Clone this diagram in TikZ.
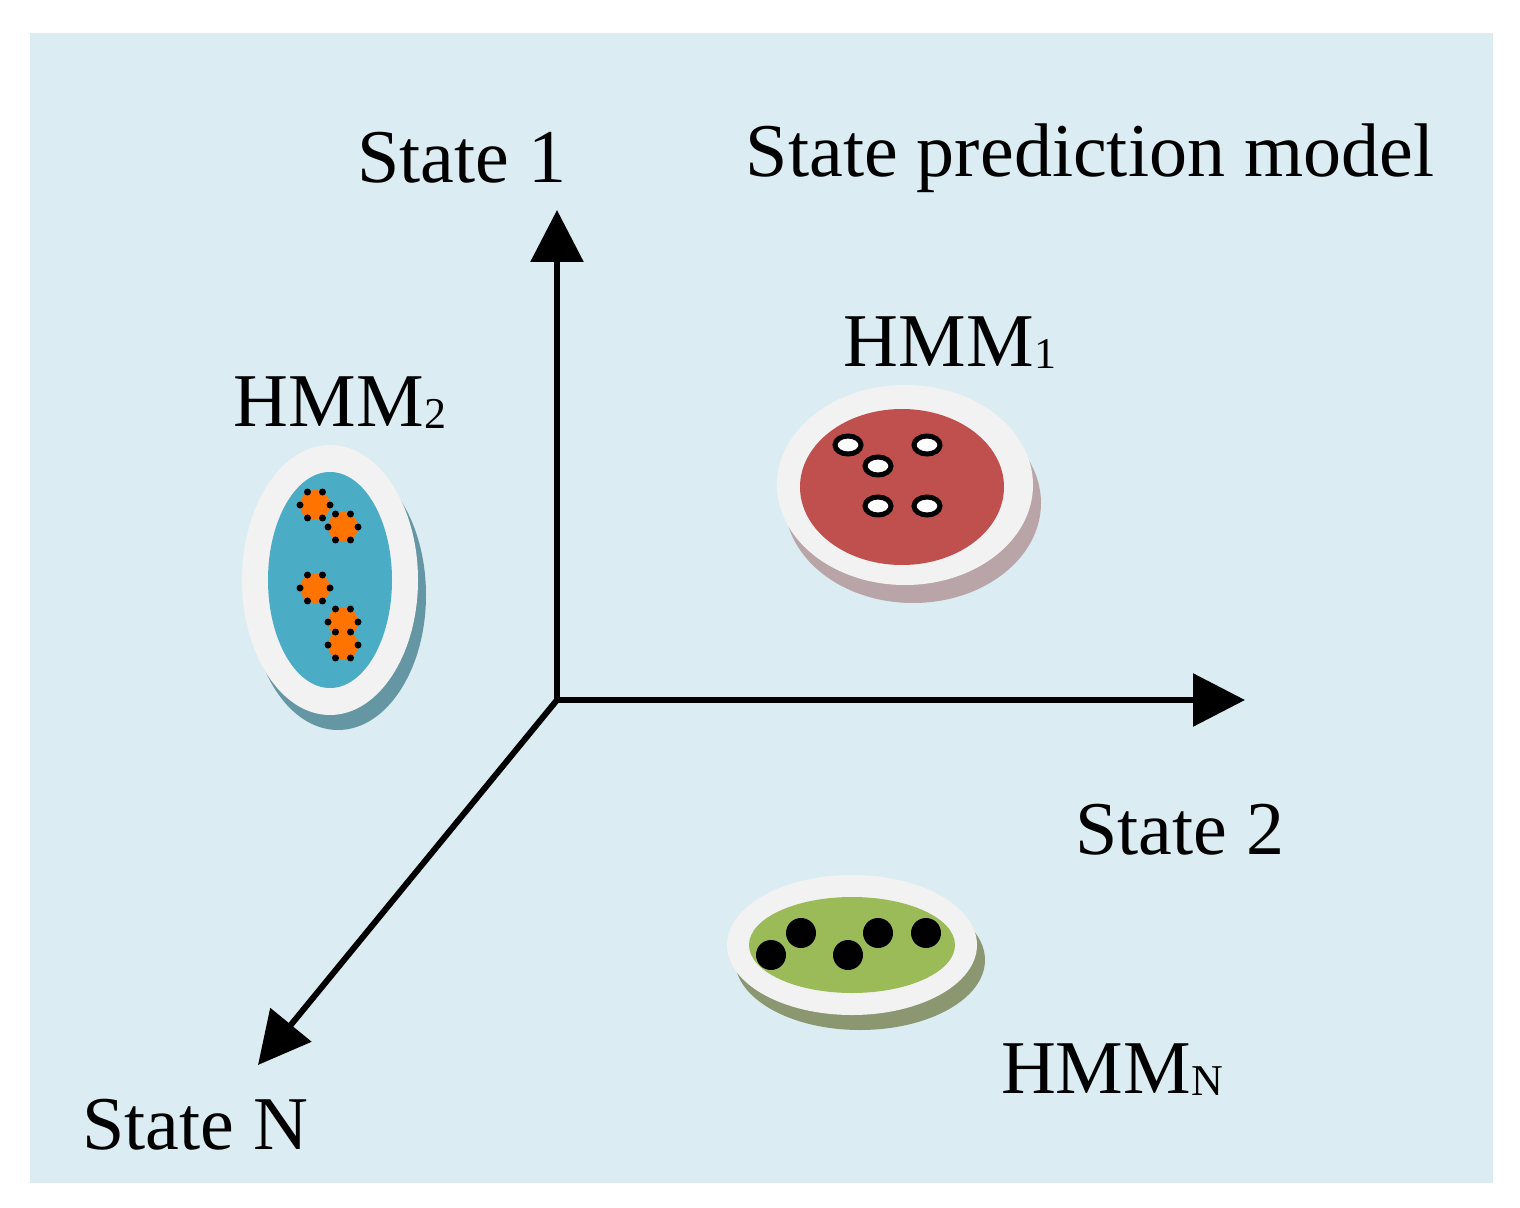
\documentclass[tikz,border=0pt]{standalone}
\usepackage{fontspec}
\setmainfont{Liberation Serif}
\usetikzlibrary{arrows.meta}
\definecolor{bg}{HTML}{DBEDF3}
\definecolor{redin}{HTML}{C0504D}
\definecolor{bluein}{HTML}{4BACC6}
\definecolor{greenin}{HTML}{9BBB59}
\definecolor{plate}{HTML}{F2F2F2}
\tikzset{
  axis/.style={line width=3pt, -{Triangle[length=26pt,width=26pt]}},
  lbl/.style={font=\fontsize{38}{40}\selectfont, inner sep=0pt},
  sub/.style={font=\fontsize{22}{24}\selectfont}
}
\begin{document}
\begin{tikzpicture}[x=0.5pt,y=-0.5pt]
\useasboundingbox (0,0) rectangle (1520,1208);
\fill[bg] (30,33) rectangle (1493,1183);
% plates
\fill[black!30!redin!40!bg] (913,503) ellipse [x radius=128, y radius=100];
\fill[plate] (905,485) ellipse [x radius=128, y radius=100];
\fill[redin] (902,487) ellipse [x radius=102, y radius=78];
\fill[bluein!50!gray] (338,595) ellipse [x radius=88, y radius=135];
\fill[plate] (330,580) ellipse [x radius=88, y radius=135];
\fill[bluein] (330,580) ellipse [x radius=62, y radius=108];
\fill[greenin!40!gray] (860,960) ellipse [x radius=125, y radius=70];
\fill[plate] (852,945) ellipse [x radius=125, y radius=70];
\fill[greenin] (852,945) ellipse [x radius=103, y radius=48];
% points
\foreach \px/\py in {848/445,927/445,878/466,878/506,927/506}
  \draw[white, fill=white, draw=black, line width=2.5pt] (\px,\py) ellipse [x radius=13, y radius=9];
\foreach \px/\py in {771/955,801/933,848/955,878/933,926/933}
  \fill (\px,\py) circle (15);
\foreach \px/\py in {315/505,343/527,315/588,343/622,343/645}{
  \fill[orange!90!red] (\px,\py) circle (15);
  \foreach \a in {0,60,...,300} \fill (\px,\py) ++(\a:15) circle (3.5);
}
% axes
\coordinate (o) at (557,700);
\coordinate (s1) at (557,210);
\coordinate (s2) at (1245,700);
\coordinate (sn) at (258,1065);
\draw[axis] (o) -- (s1);
\draw[axis] (o) -- (s2);
\draw[axis] (o) -- (sn);
% labels
\node[lbl] (t1) at (462,158) {State 1};
\node[lbl] (title) at (1090,158) {State prediction model};
\node[lbl] (t2) at (1180,830) {State 2};
\node[lbl] (tn) at (195,1125) {State N};
\node[lbl] (h1) at (950,343) {HMM\raisebox{-1pt}{\fontsize{22}{24}\selectfont 1}};
\node[lbl] (h2) at (340,403) {HMM\raisebox{-1pt}{\fontsize{22}{24}\selectfont 2}};
\node[lbl] (hn) at (1112,1070) {HMM\raisebox{-1pt}{\fontsize{22}{24}\selectfont N}};
\end{tikzpicture}
\end{document}
